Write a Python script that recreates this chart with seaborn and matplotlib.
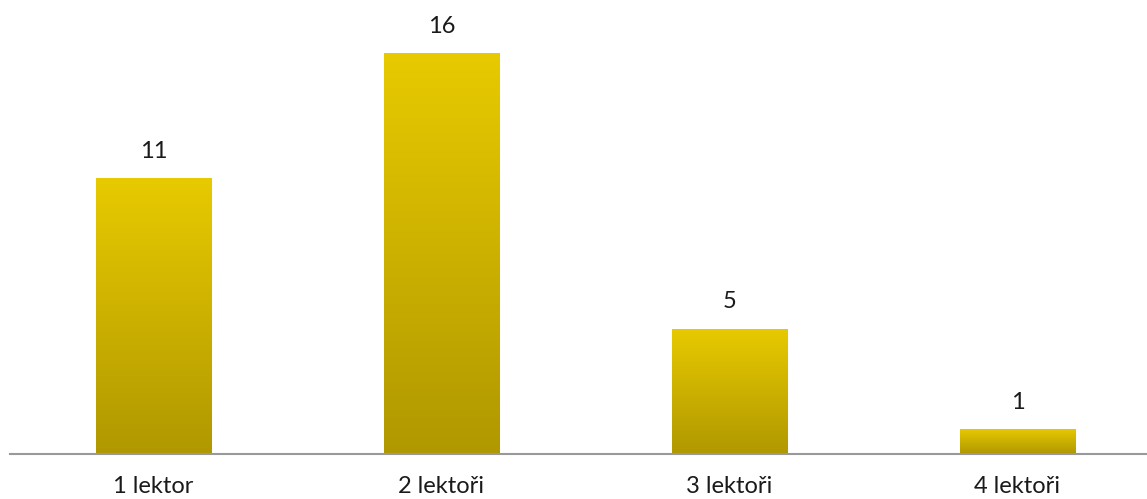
import seaborn as sns
import pandas as pd
import matplotlib.pyplot as plt
import numpy as np

categories = ['1 lektor', '2 lektoři', '3 lektoři', '4 lektoři']
values = [11, 16, 5, 1]

df = pd.DataFrame({'kat': categories, 'pocet': values})

sns.set_style('white')
plt.rcParams['font.family'] = ['Lato', 'DejaVu Sans']

fig = plt.figure(figsize=(11.47, 4.99), dpi=100)
ax = fig.add_axes([9.5 / 1147, 45 / 499, 1 - 9.5 / 1147, 451 / 499])
sns.barplot(data=df, x='kat', y='pocet', color='#d4b600', width=0.4, ax=ax)

# gradient fill inside each bar
grad = np.linspace(0, 1, 256).reshape(-1, 1)
top = np.array([232, 202, 0]) / 255
bot = np.array([176, 152, 0]) / 255
img = bot + (top - bot) * grad[:, :, None] * np.ones((1, 1, 3))
for p in ax.patches:
    x0, w, h = p.get_x(), p.get_width(), p.get_height()
    p.set_facecolor('none')
    p.set_edgecolor('none')
    im = ax.imshow(img, extent=[x0, x0 + w, 0, h], origin='lower', aspect='auto', zorder=2)
    im.set_clip_path(p)
    ax.text(x0 + w / 2, h + 0.65, str(int(h)), ha='center', va='bottom', fontsize=17, color='#1a1a1a')

ax.set_xlim(-0.5, 3.45)
ax.set_ylim(0, 18)
ax.set_xlabel('')
ax.set_ylabel('')
ax.set_yticks([])
ax.tick_params(axis='x', length=0, pad=16, labelsize=17, labelcolor='#1a1a1a')
sns.despine(ax=ax, left=True, right=True, top=True)
ax.spines['bottom'].set_color('#999999')
ax.spines['bottom'].set_linewidth(1.5)
ax.spines['bottom'].set_zorder(3)

fig.savefig('out.png', dpi=100)
